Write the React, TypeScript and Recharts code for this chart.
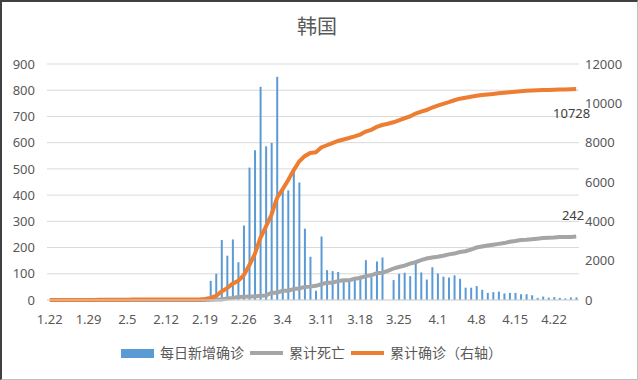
import React from 'react';
import {
  ComposedChart,
  Bar,
  Line,
  XAxis,
  YAxis,
  CartesianGrid,
  LabelList,
} from 'recharts';

// 日期（1.22 - 4.26）
const dates = [
  '1.22', '1.23', '1.24', '1.25', '1.26', '1.27', '1.28', '1.29', '1.30', '1.31',
  '2.1', '2.2', '2.3', '2.4', '2.5', '2.6', '2.7', '2.8', '2.9', '2.10',
  '2.11', '2.12', '2.13', '2.14', '2.15', '2.16', '2.17', '2.18', '2.19', '2.20',
  '2.21', '2.22', '2.23', '2.24', '2.25', '2.26', '2.27', '2.28', '2.29',
  '3.1', '3.2', '3.3', '3.4', '3.5', '3.6', '3.7', '3.8', '3.9', '3.10',
  '3.11', '3.12', '3.13', '3.14', '3.15', '3.16', '3.17', '3.18', '3.19', '3.20',
  '3.21', '3.22', '3.23', '3.24', '3.25', '3.26', '3.27', '3.28', '3.29', '3.30', '3.31',
  '4.1', '4.2', '4.3', '4.4', '4.5', '4.6', '4.7', '4.8', '4.9', '4.10',
  '4.11', '4.12', '4.13', '4.14', '4.15', '4.16', '4.17', '4.18', '4.19', '4.20',
  '4.21', '4.22', '4.23', '4.24', '4.25', '4.26',
];

// 每日新增确诊
const dailyNew = [
  0, 0, 1, 0, 1, 1, 0, 0, 2, 5,
  1, 3, 0, 1, 3, 4, 1, 0, 3, 0,
  1, 0, 0, 0, 0, 1, 1, 1, 0, 73,
  100, 229, 169, 231, 144, 284, 505, 571, 813,
  586, 599, 851, 416, 418, 488, 448, 272, 165, 35,
  242, 114, 110, 107, 76, 74, 84, 93, 152, 87,
  147, 162, 0, 76, 100, 104, 91, 146, 105, 78, 125,
  101, 89, 86, 94, 81, 47, 47, 53, 39, 27,
  30, 32, 25, 27, 27, 22, 22, 18, 8, 13,
  9, 11, 8, 6, 10, 10,
];

// 累计死亡
const deaths = [
  0, 0, 0, 0, 0, 0, 0, 0, 0, 0,
  0, 0, 0, 0, 0, 0, 0, 0, 0, 0,
  0, 0, 0, 0, 0, 0, 0, 0, 0, 1,
  2, 2, 6, 8, 11, 12, 13, 13, 16,
  17, 28, 28, 35, 35, 42, 44, 50, 51, 54,
  60, 66, 66, 72, 75, 75, 81, 84, 91, 94,
  102, 104, 111, 120, 126, 131, 139, 144, 152, 158, 162,
  165, 169, 174, 177, 183, 186, 192, 200, 204, 208,
  211, 214, 217, 222, 225, 229, 230, 232, 234, 236,
  237, 238, 240, 240, 240, 242,
];

// 累计确诊（右轴）
const confirmed = [
  1, 1, 2, 2, 3, 4, 4, 4, 6, 11,
  12, 15, 15, 16, 19, 23, 24, 24, 27, 27,
  28, 28, 28, 28, 28, 29, 30, 31, 51, 104,
  204, 433, 602, 833, 977, 1261, 1766, 2337, 3150,
  3736, 4335, 5186, 5621, 6088, 6593, 7041, 7313, 7478, 7513,
  7755, 7869, 7979, 8086, 8162, 8236, 8320, 8413, 8565, 8652,
  8799, 8897, 8961, 9037, 9137, 9241, 9332, 9478, 9583, 9661, 9786,
  9887, 9976, 10062, 10156, 10237, 10284, 10331, 10384, 10423, 10450,
  10480, 10512, 10537, 10564, 10591, 10613, 10635, 10653, 10661, 10674,
  10683, 10694, 10702, 10708, 10718, 10728,
];

const leftTicks = [0, 100, 200, 300, 400, 500, 600, 700, 800, 900];
const rightTicks = [0, 2000, 4000, 6000, 8000, 10000, 12000];

const data = dates.map((date, i) => ({
  date,
  daily: dailyNew[i],
  deaths: deaths[i],
  confirmed: confirmed[i],
}));

const FONT = '"Noto Sans", "Noto Sans CJK SC", sans-serif';
const BLUE = '#5B9BD5';
const GRAY = '#A5A5A5';
const ORANGE = '#ED7D31';
const TEXT = '#595959';
const last = data.length - 1;

// 只在最后一个点上显示数值
const endLabel = (dx: number, dy: number) => (props: any) => {
  if (props.index !== last) return null;
  return (
    <text
      x={props.x + dx}
      y={props.y + dy}
      textAnchor="end"
      fontSize={13}
      fontFamily={FONT}
      fill="#404040"
    >
      {props.value}
    </text>
  );
};

const LegendItem = ({ kind, color, text }: { kind: 'rect' | 'line'; color: string; text: string }) => (
  <div style={{ display: 'flex', alignItems: 'center', marginRight: 6 }}>
    <div
      style={{
        width: 33,
        height: kind === 'rect' ? 9 : 4,
        background: color,
        marginRight: 6,
      }}
    />
    <span>{text}</span>
  </div>
);

export default function App() {
  return (
    <div
      style={{
        position: 'absolute',
        left: 0,
        top: 0,
        width: 638,
        height: 380,
        background: '#fff',
        fontFamily: FONT,
      }}
    >
      <ComposedChart
        width={638}
        height={380}
        data={data}
        margin={{ top: 64, right: 0, left: 0, bottom: 50 }}
        barCategoryGap={0}
      >
        <CartesianGrid yAxisId="left" vertical={false} stroke="#D9D9D9" />
        <XAxis
          dataKey="date"
          interval={6}
          height={30}
          tickSize={0}
          tickMargin={15}
          axisLine={{ stroke: '#D9D9D9' }}
          tick={{ fontSize: 13, fill: TEXT, fontFamily: FONT }}
        />
        <YAxis
          yAxisId="left"
          width={47}
          domain={[0, 900]}
          ticks={leftTicks}
          axisLine={false}
          tickSize={0}
          tickMargin={12}
          tick={{ fontSize: 13, fill: TEXT, fontFamily: FONT }}
        />
        <YAxis
          yAxisId="right"
          orientation="right"
          width={59}
          domain={[0, 12000]}
          ticks={rightTicks}
          axisLine={false}
          tickSize={0}
          tickMargin={6}
          tick={{ fontSize: 13, fill: TEXT, fontFamily: FONT }}
        />
        <Bar
          yAxisId="left"
          dataKey="daily"
          fill={BLUE}
          barSize={2}
          isAnimationActive={false}
        />
        <Line
          yAxisId="left"
          type="linear"
          dataKey="deaths"
          stroke={GRAY}
          strokeWidth={4}
          dot={false}
          isAnimationActive={false}
        >
          <LabelList dataKey="deaths" content={endLabel(8, -17)} />
        </Line>
        <Line
          yAxisId="right"
          type="linear"
          dataKey="confirmed"
          stroke={ORANGE}
          strokeWidth={4}
          dot={false}
          isAnimationActive={false}
        >
          <LabelList dataKey="confirmed" content={endLabel(14, 29)} />
        </Line>
      </ComposedChart>

      {/* 标题 */}
      <div
        style={{
          position: 'absolute',
          top: 16,
          left: 0,
          width: 634,
          textAlign: 'center',
          fontSize: 20,
          lineHeight: '22px',
          color: TEXT,
        }}
      >
        韩国
      </div>

      {/* 图例 */}
      <div
        style={{
          position: 'absolute',
          top: 344,
          left: 121,
          display: 'flex',
          alignItems: 'center',
          fontSize: 14,
          lineHeight: '18px',
          color: TEXT,
          whiteSpace: 'nowrap',
        }}
      >
        <LegendItem kind="rect" color={BLUE} text="每日新增确诊" />
        <LegendItem kind="line" color={GRAY} text="累计死亡" />
        <LegendItem kind="line" color={ORANGE} text="累计确诊（右轴）" />
      </div>

      {/* 图表边框 */}
      <div
        style={{
          position: 'absolute',
          inset: 0,
          borderTop: '2px solid #404040',
          borderLeft: '2px solid #404040',
          borderRight: '1px solid #BFBFBF',
          borderBottom: '1px solid #BFBFBF',
          pointerEvents: 'none',
        }}
      />
    </div>
  );
}
